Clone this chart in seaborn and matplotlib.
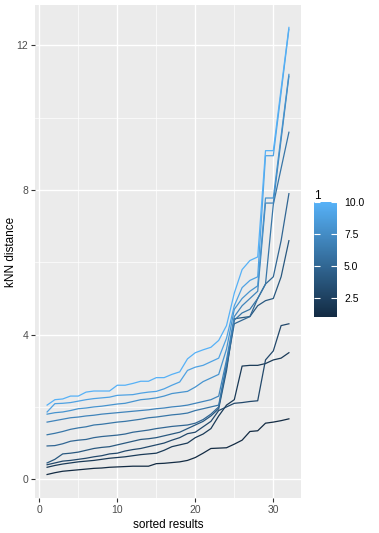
import numpy as np
import pandas as pd
import matplotlib
import matplotlib.pyplot as plt
import seaborn as sns
from matplotlib.colors import LinearSegmentedColormap, Normalize
from matplotlib.cm import ScalarMappable
matplotlib.use('Agg')

# sorted kNN distances, one list per k
k1 = [0.13, 0.18, 0.22, 0.24, 0.26, 0.28, 0.30, 0.31, 0.33, 0.34, 0.35, 0.36, 0.36, 0.36, 0.43, 0.44,
      0.46, 0.48, 0.52, 0.60, 0.72, 0.85, 0.86, 0.87, 0.97, 1.08, 1.32, 1.34, 1.55, 1.58, 1.62, 1.67]
k2 = [0.33, 0.38, 0.42, 0.45, 0.48, 0.50, 0.52, 0.55, 0.58, 0.60, 0.62, 0.65, 0.68, 0.70, 0.72, 0.80,
      0.90, 0.95, 1.00, 1.15, 1.25, 1.40, 1.75, 2.05, 2.20, 3.13, 3.15, 3.15, 3.20, 3.30, 3.35, 3.50]
k3 = [0.40, 0.45, 0.50, 0.52, 0.55, 0.58, 0.62, 0.65, 0.70, 0.72, 0.78, 0.82, 0.85, 0.90, 0.95, 1.00,
      1.08, 1.15, 1.26, 1.30, 1.45, 1.60, 1.90, 2.00, 2.10, 2.12, 2.15, 2.17, 3.30, 3.55, 4.25, 4.30]
k4 = [0.45, 0.55, 0.70, 0.72, 0.75, 0.80, 0.85, 0.88, 0.90, 0.95, 1.00, 1.05, 1.10, 1.12, 1.15, 1.20,
      1.25, 1.30, 1.40, 1.50, 1.60, 1.75, 1.95, 3.00, 4.44, 4.47, 4.50, 4.80, 4.94, 5.00, 5.60, 6.60]
k5 = [0.92, 0.93, 0.98, 1.05, 1.08, 1.10, 1.15, 1.18, 1.20, 1.22, 1.25, 1.30, 1.33, 1.36, 1.40, 1.43,
      1.46, 1.48, 1.50, 1.55, 1.65, 1.80, 2.00, 3.10, 4.30, 4.40, 4.50, 5.00, 5.40, 5.60, 6.60, 7.90]
k6 = [1.23, 1.27, 1.32, 1.38, 1.42, 1.45, 1.50, 1.52, 1.55, 1.58, 1.60, 1.63, 1.66, 1.70, 1.72, 1.75,
      1.78, 1.80, 1.83, 1.90, 1.95, 2.00, 2.05, 3.20, 4.40, 4.60, 4.70, 5.00, 5.40, 7.60, 8.60, 9.60]
k7 = [1.58, 1.62, 1.66, 1.70, 1.72, 1.75, 1.77, 1.80, 1.82, 1.84, 1.86, 1.88, 1.90, 1.92, 1.95, 1.97,
      2.00, 2.02, 2.05, 2.10, 2.15, 2.20, 2.30, 3.30, 4.50, 4.80, 5.00, 5.20, 7.64, 7.64, 9.40, 11.15]
k8 = [1.80, 1.84, 1.86, 1.90, 1.95, 1.97, 2.00, 2.02, 2.05, 2.08, 2.10, 2.15, 2.20, 2.22, 2.25, 2.30,
      2.37, 2.40, 2.43, 2.55, 2.70, 2.80, 2.90, 3.60, 4.70, 5.00, 5.20, 5.35, 7.78, 7.78, 9.50, 11.20]
k9 = [1.86, 2.09, 2.10, 2.12, 2.16, 2.20, 2.23, 2.25, 2.27, 2.32, 2.33, 2.34, 2.38, 2.41, 2.43, 2.50,
      2.60, 2.69, 3.01, 3.10, 3.15, 3.25, 3.35, 3.90, 4.80, 5.30, 5.50, 5.60, 8.95, 8.95, 10.70, 12.45]
k10 = [2.05, 2.20, 2.22, 2.30, 2.30, 2.41, 2.44, 2.44, 2.44, 2.60, 2.60, 2.65, 2.71, 2.71, 2.81, 2.81,
       2.90, 2.97, 3.33, 3.50, 3.58, 3.65, 3.84, 4.25, 5.15, 5.80, 6.05, 6.15, 9.09, 9.09, 10.80, 12.50]

all_k = [k1, k2, k3, k4, k5, k6, k7, k8, k9, k10]
k_values = list(range(1, 11))

rows = []
for k, vals in zip(k_values, all_k):
    for i, v in enumerate(vals, start=1):
        rows.append({'sorted results': i, 'kNN distance': v, 'k': k})
df = pd.DataFrame(rows)

# ggplot default continuous scale
cmap = LinearSegmentedColormap.from_list('gg', ['#132B43', '#56B1F7'])
norm = Normalize(1, 10)

plt.rcParams['font.family'] = ['Liberation Sans', 'DejaVu Sans']
fig = plt.figure(figsize=(3.79, 5.33), dpi=100)
ax = fig.add_axes([35 / 379, 35 / 533, 266 / 379, 493 / 533])
ax.set_facecolor('#EBEBEB')

sns.lineplot(data=df, x='sorted results', y='kNN distance', hue='k', palette=cmap,
             hue_norm=norm, units='k', estimator=None, legend=False, linewidth=0.9, ax=ax)

ax.set_xlim(-0.55, 33.55)
ax.set_ylim(-0.52, 13.12)
ax.set_xticks([0, 10, 20, 30])
ax.set_yticks([0, 4, 8, 12])
ax.set_xticks([5, 15, 25], minor=True)
ax.set_yticks([2, 6, 10], minor=True)
ax.grid(which='major', color='white', linewidth=1.0)
ax.grid(which='minor', color='white', linewidth=0.5)
ax.set_axisbelow(True)
for s in ax.spines.values():
    s.set_visible(False)
ax.tick_params(which='major', length=3, color='#333333', labelsize=7.5, labelcolor='#4D4D4D', pad=2)
ax.tick_params(which='minor', length=0)
ax.set_xlabel('sorted results', fontsize=8.5, labelpad=3)
ax.set_ylabel('kNN distance', fontsize=8.5)
ax.yaxis.set_label_coords(-0.066, 0.5)

# colourbar legend
cax = fig.add_axes([314 / 379, 216.5 / 533, 23 / 379, 114 / 533])
cb = fig.colorbar(ScalarMappable(norm=norm, cmap=cmap), cax=cax)
cb.outline.set_visible(False)
cb.set_ticks([2.5, 5.0, 7.5, 10.0])
cb.set_ticklabels(['2.5', '5.0', '7.5', '10.0'])
cax.yaxis.set_ticks_position('both')
cax.tick_params(direction='in', color='white', length=4, width=0.8, labelsize=7.5,
                labelcolor='black', pad=5, labelright=True, labelleft=False)
cax.set_title('1', fontsize=8.5, loc='left', pad=2)

fig.savefig('out.png', dpi=100)
